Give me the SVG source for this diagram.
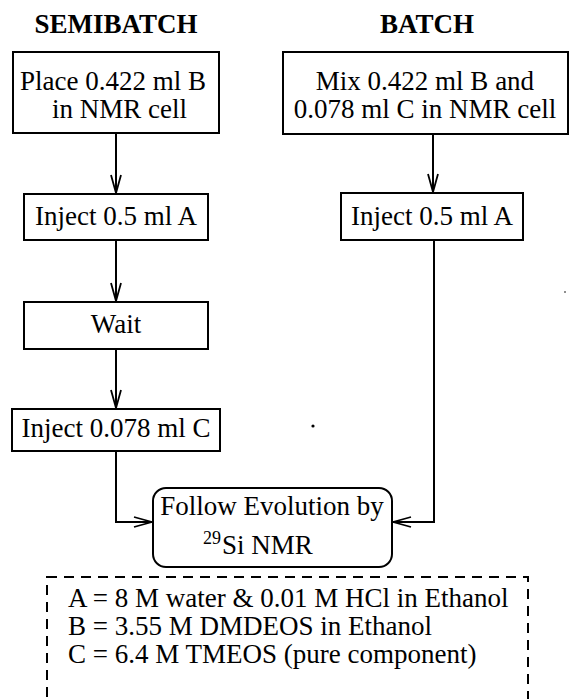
<svg xmlns="http://www.w3.org/2000/svg" width="569" height="699" viewBox="0 0 569 699" font-family="'Liberation Serif', 'Times New Roman', Times, 'DejaVu Serif', serif">
<style>
text{font-family:'Liberation Serif','Times New Roman',Times,'DejaVu Serif',serif;font-size:27px;fill:#000}
.h{font-weight:bold}
.box{fill:#fff;stroke:#000;stroke-width:2}
.c{fill:none;stroke:#000;stroke-width:2}
.leg{fill:none;stroke:#000;stroke-width:2;stroke-dasharray:10 7}
</style>
<defs>
<marker id="ah" markerUnits="userSpaceOnUse" markerWidth="22" markerHeight="14" refX="19" refY="7" orient="auto">
<path d="M1,2 L19,7 L1,12" fill="none" stroke="#000" stroke-width="1.8"/>
</marker>
</defs>
<rect width="569" height="699" fill="#fff"/>
<text class="h" x="116" y="33" text-anchor="middle">SEMIBATCH</text>
<text class="h" x="427" y="33" text-anchor="middle">BATCH</text>
<g id="connectors">
<path class="c" d="M116,133 V193" marker-end="url(#ah)"/>
<path class="c" d="M116,240 V301" marker-end="url(#ah)"/>
<path class="c" d="M116,349 V408" marker-end="url(#ah)"/>
<path class="c" d="M116,451 V522 H152" marker-end="url(#ah)"/>
<path class="c" d="M433,134 V192" marker-end="url(#ah)"/>
<path class="c" d="M434,240 V522 H393" marker-end="url(#ah)"/>
</g>
<g id="place">
<rect class="box" x="13" y="52" width="206" height="81"/>
<text x="20" y="90">Place 0.422 ml B</text>
<text x="52" y="118">in NMR cell</text>
</g>
<g id="injectA1">
<rect class="box" x="24" y="194" width="184" height="46"/>
<text x="116" y="225" text-anchor="middle">Inject 0.5 ml A</text>
</g>
<g id="wait">
<rect class="box" x="24" y="302" width="184" height="47"/>
<text x="116" y="333" text-anchor="middle">Wait</text>
</g>
<g id="injectC">
<rect class="box" x="12" y="409" width="208" height="42"/>
<text x="116" y="437" text-anchor="middle">Inject 0.078 ml C</text>
</g>
<g id="mix">
<rect class="box" x="283" y="52" width="285" height="82"/>
<text x="425" y="90" text-anchor="middle">Mix 0.422 ml B and</text>
<text x="425" y="118" text-anchor="middle">0.078 ml C in NMR cell</text>
</g>
<g id="injectA2">
<rect class="box" x="341" y="193" width="182" height="47"/>
<text x="432" y="225" text-anchor="middle">Inject 0.5 ml A</text>
</g>
<g id="follow">
<rect class="box" x="153" y="488" width="239" height="79" rx="13" ry="13"/>
<text x="272" y="515" text-anchor="middle">Follow Evolution by</text>
<text x="203" y="544" style="font-size:18px">29</text>
<text x="222" y="554">Si NMR</text>
</g>
<g id="legend">
<rect class="leg" x="47" y="577" width="481" height="140"/>
<text x="68" y="607">A = 8 M water &amp; 0.01 M HCl in Ethanol</text>
<text x="68" y="635">B = 3.55 M DMDEOS in Ethanol</text>
<text x="68" y="663">C = 6.4 M TMEOS (pure component)</text>
</g>
<circle cx="313" cy="426" r="1.6" fill="#000"/>
<circle cx="565" cy="292" r="0.8" fill="#000"/>
</svg>
